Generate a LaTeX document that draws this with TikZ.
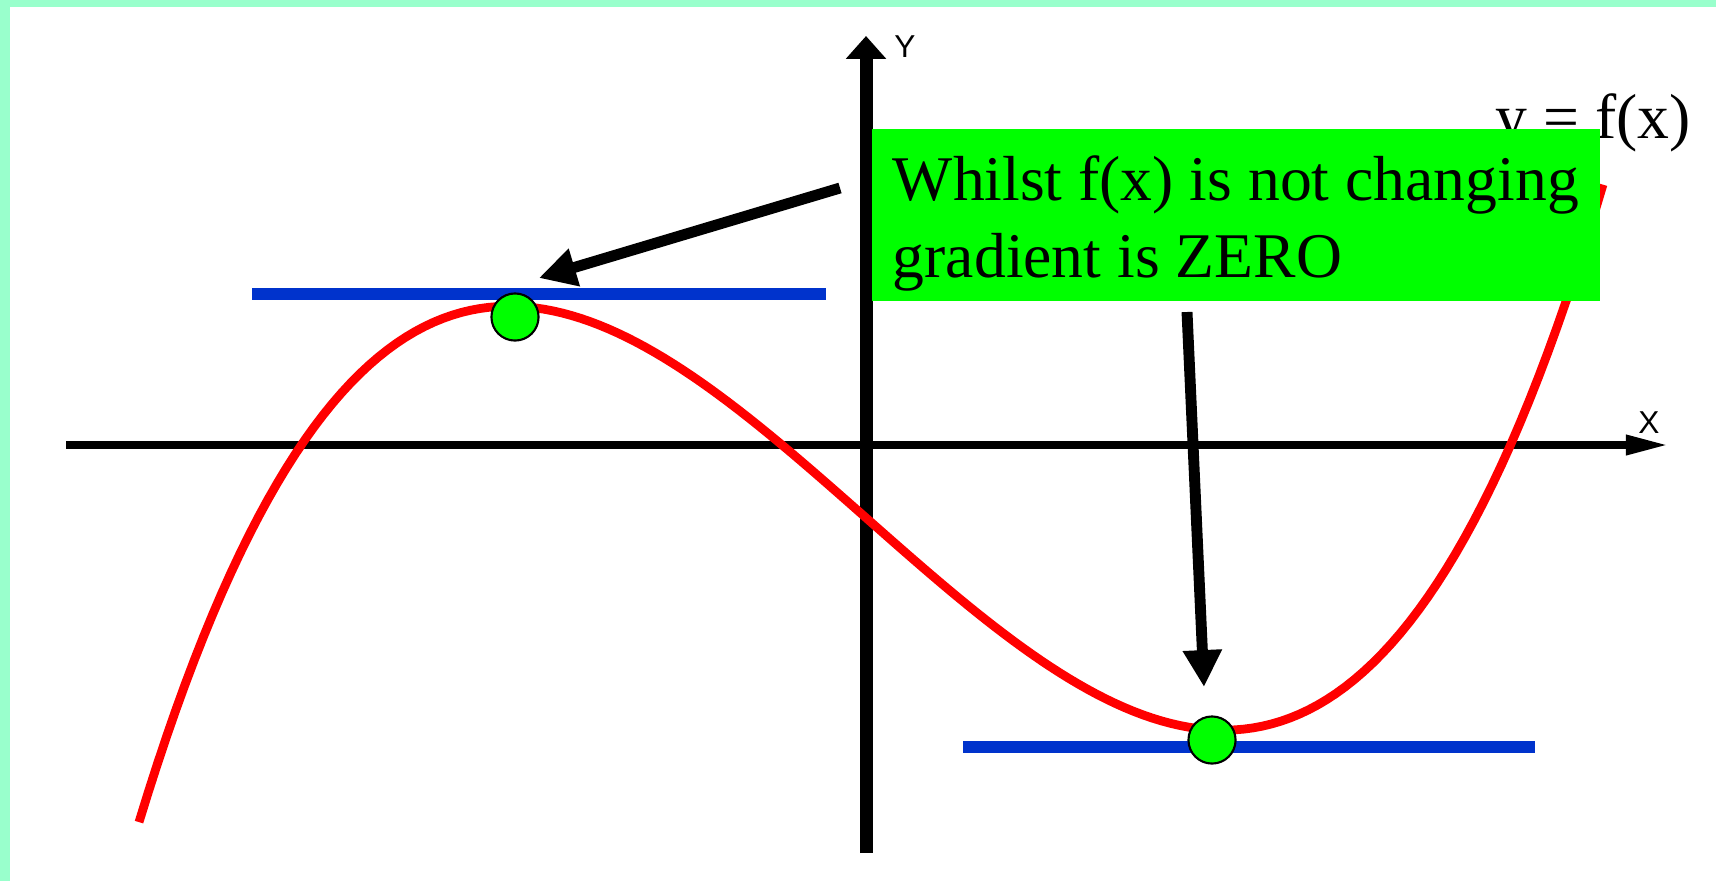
\documentclass[tikz,border=0pt]{standalone}
\usepackage{fontspec}
\setmainfont{Liberation Serif}
\setsansfont{Liberation Sans}
\usepackage{tikz}
\usetikzlibrary{arrows.meta,calc}
\definecolor{framegreen}{HTML}{99FFCC}
\definecolor{tangentblue}{HTML}{0033CC}
\definecolor{notegreen}{HTML}{00FF00}
\tikzset{
  yaxisline/.style={line width=3.7pt, -{Triangle[length=6.5pt, width=11.1pt]}},
  xaxisline/.style={line width=2pt, -{Triangle[length=12pt, width=5.4pt]}},
  tangent/.style={line width=3.4pt, tangentblue},
  curveline/.style={line width=2.5pt, red, line join=round},
  pointer/.style={line width=3.1pt, -{Triangle[length=10.5pt, width=10.5pt]}},
  stationary/.style={draw, circle, fill=notegreen, line width=0.6pt, minimum size=13.4pt, inner sep=0pt},
  notebox/.style={fill=notegreen, anchor=north west, inner xsep=6pt, inner ysep=0pt, minimum width=207.1pt, align=left, font=\fontsize{18.1}{21.9}\selectfont},
  axislabel/.style={font=\sffamily\fontsize{9}{9}\selectfont, inner sep=0pt}
}

\begin{document}
\begin{tikzpicture}[x=0.01cm, y=-0.01cm]
      \useasboundingbox (0,0) rectangle (1716,881);
      \fill[framegreen] (0,0) rectangle (1716,7);
      \fill[framegreen] (0,0) rectangle (10,881);
      % axes
      \coordinate (ybot) at (866,853);
      \coordinate (ytop) at (866,36);
      \coordinate (xleft) at (66,445);
      \coordinate (xright) at (1668,445);
      \draw[yaxisline] (ybot) -- (ytop);
      \draw[xaxisline] (xleft) -- (xright);
      \node[axislabel] (ylab) at (905,47) {Y};
      \node[axislabel] (xlab) at (1649,423) {X};
      % tangents
      \coordinate (t1a) at (252,294);
      \coordinate (t1b) at (826,294);
      \coordinate (t2a) at (963,747);
      \coordinate (t2b) at (1535,747);
      \draw[tangent] (t1a) -- (t1b);
      \draw[tangent] (t2a) -- (t2b);
      % the function (u in hundreds of px)
      \draw[curveline] plot[domain=1.39:16.03, samples=160, variable=\u]
        ({100*\u}, {445.4 - 2.382*(\u-3.01)*(\u-7.825)*(\u-15.103)*(1+0.001979*(\u-8.71)^2)});
      \node[stationary] (maxpt) at (515,317) {};
      \node[stationary] (minpt) at (1212,740) {};
      \node[anchor=base, font=\fontsize{18.1}{21.9}\selectfont, inner sep=0pt] (flabel) at (1593,138) {y = f(x)};
      \node[notebox] (note) at (871,128) {\rule{0pt}{20.5pt}Whilst f(x) is not changing\\gradient is ZERO\rule[-6.5pt]{0pt}{0pt}};
      % pointers
      \coordinate (p1s) at (840,188);
      \coordinate (p1e) at (539,278);
      \coordinate (p2s) at (1187,312);
      \coordinate (p2e) at (1204,687);
      \draw[pointer] (p1s) -- (p1e);
      \draw[pointer] (p2s) -- (p2e);
\end{tikzpicture}
\end{document}
